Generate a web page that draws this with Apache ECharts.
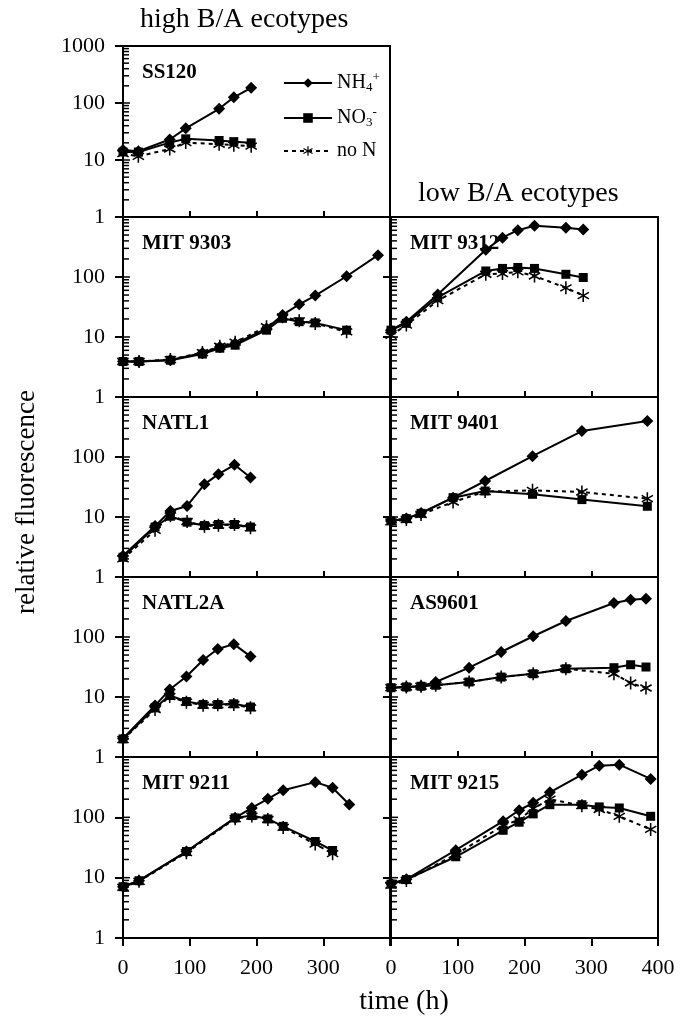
<!DOCTYPE html>
<html>
<head>
<meta charset="utf-8">
<script src="https://cdn.jsdelivr.net/npm/echarts@6/dist/echarts.min.js"></script>
<style>
html, body { margin: 0; padding: 0; background: #fff; }
#chart { width: 690px; height: 1017px; }
</style>
</head>
<body>
<div id="chart"></div>
<script>
// time (h) and relative fluorescence
const ss120Time = [0, 23, 70, 94, 144, 166, 192];
const ss120NH4 = [15, 14.3, 22.9, 35.9, 79, 126, 185];
const ss120NO3 = [13.8, 13.8, 20.2, 23.5, 22, 21, 20];
const ss120NoN = [12.9, 11.6, 15.6, 20.2, 18.9, 18.2, 17.5];

const mit9303Time = [0, 24, 71, 119, 145, 168, 215, 239, 264, 288, 335, 382];
const mit9303NH4 = [3.9, 3.9, 4.15, 5.4, 6.8, 7.7, 13.9, 23.3, 35, 49, 103, 231];
const mit9303NO3 = [3.9, 3.9, 4.1, 5.2, 6.5, 7.3, 13, 20.5, 18, 17.2, 13];
const mit9303NoN = [3.9, 3.9, 4.2, 5.5, 7, 8.2, 14.8, 21.7, 18.6, 16.8, 12.2];

const natl1Time = [0, 48, 71, 96, 122, 143, 167, 191];
const natl1NH4 = [2.27, 7.05, 12.6, 15.3, 35, 51.8, 74.2, 45.4];
const natl1NO3 = [2.13, 6.8, 10.3, 8.2, 7.2, 7.5, 7.5, 6.8];
const natl1NoN = [2.0, 6.0, 10.5, 8.4, 7.0, 7.3, 7.5, 6.6];

const natl2aTime = [0, 48, 70, 95, 120, 142, 166, 191];
const natl2aNH4 = [2.03, 7.2, 13.3, 21.9, 41.4, 63, 76, 47.5];
const natl2aNO3 = [2.0, 6.6, 10.6, 8.4, 7.5, 7.5, 7.7, 6.8];
const natl2aNoN = [1.95, 6.2, 10.2, 8.2, 7.3, 7.4, 7.5, 6.6];

const mit9211Time = [0, 24, 95, 168, 193, 217, 240, 288, 314, 339];
const mit9211NH4 = [7.08, 8.9, 27.1, 97.7, 143, 203, 282, 383, 309, 163];
const mit9211NO3 = [7.08, 8.9, 27.1, 97.7, 107, 94, 70.8, 39.8, 28.2];
const mit9211NoN = [6.9, 8.7, 26, 95, 105, 92, 68, 36, 25];

const mit9312Time = [0, 23, 70, 142, 167, 190, 215, 262, 288];
const mit9312NH4 = [13, 18, 51, 284, 453, 603, 714, 660, 617];
const mit9312NO3 = [13, 16.9, 45.8, 126, 139, 144, 139, 111, 98];
const mit9312NoN = [10.7, 15.8, 40.3, 111, 114, 122, 104, 66, 49];

const mit9401Time = [0, 23, 45, 93, 141, 212, 286, 384];
const mit9401NH4 = [8.6, 9.4, 11.7, 21, 39.8, 103, 271, 398];
const mit9401NO3 = [8.6, 9.4, 11.5, 21, 27.1, 23.9, 19.5, 15.1];
const mit9401NoN = [8.3, 9.1, 11.0, 17.8, 26.5, 27.8, 26.1, 20.2];

const as9601Time = [0, 23, 45, 67, 117, 165, 213, 262, 334, 359, 382];
const as9601NH4 = [14.3, 14.7, 15.1, 17.8, 30.8, 56.2, 103, 185, 369, 418, 435];
const as9601NO3 = [14.3, 14.7, 15.1, 15.7, 17.8, 21.5, 24.4, 29.6, 30.8, 34.5, 31.6];
const as9601NoN = [14.3, 14.7, 15.1, 15.7, 17.8, 21.5, 24.4, 29.6, 24.4, 17.1, 14.1];

const mit9215Time = [0, 23, 97, 168, 192, 213, 238, 286, 312, 342, 389];
const mit9215NH4 = [8.05, 9.4, 28.6, 86.3, 131, 174, 260, 509, 718, 746, 433];
const mit9215NO3 = [7.8, 9.3, 22.2, 61, 83, 114, 162, 162, 149, 143, 104];
const mit9215NoN = [7.5, 9.0, 24.3, 73, 91, 140, 200, 156, 135, 104, 63];

// log-axis tick values (2..9 of each decade drawn as short inner ticks)
const yMajor = [1, 10, 100, 1000];
const yMinor = [2, 3, 4, 5, 6, 7, 8, 9, 20, 30, 40, 50, 60, 70, 80, 90, 200, 300, 400, 500, 600, 700, 800, 900];

const FONT = 'Liberation Serif';
const LX = 123, RX = 391, W = 267;

// layout of the panels
const panels = [
  { label: 'SS120', left: LX, top: 46, h: 171, col: 0, bottom: false, first: true,
    t: ss120Time, nh4: ss120NH4, no3: ss120NO3, non: ss120NoN },
  { label: 'MIT 9303', left: LX, top: 217, h: 180, col: 0, bottom: false,
    t: mit9303Time, nh4: mit9303NH4, no3: mit9303NO3, non: mit9303NoN },
  { label: 'NATL1', left: LX, top: 397, h: 180, col: 0, bottom: false,
    t: natl1Time, nh4: natl1NH4, no3: natl1NO3, non: natl1NoN },
  { label: 'NATL2A', left: LX, top: 577, h: 180, col: 0, bottom: false,
    t: natl2aTime, nh4: natl2aNH4, no3: natl2aNO3, non: natl2aNoN },
  { label: 'MIT 9211', left: LX, top: 757, h: 181, col: 0, bottom: true,
    t: mit9211Time, nh4: mit9211NH4, no3: mit9211NO3, non: mit9211NoN },
  { label: 'MIT 9312', left: RX, top: 217, h: 180, col: 1, bottom: false,
    t: mit9312Time, nh4: mit9312NH4, no3: mit9312NO3, non: mit9312NoN },
  { label: 'MIT 9401', left: RX, top: 397, h: 180, col: 1, bottom: false,
    t: mit9401Time, nh4: mit9401NH4, no3: mit9401NO3, non: mit9401NoN },
  { label: 'AS9601', left: RX, top: 577, h: 180, col: 1, bottom: false,
    t: as9601Time, nh4: as9601NH4, no3: as9601NO3, non: as9601NoN },
  { label: 'MIT 9215', left: RX, top: 757, h: 181, col: 1, bottom: true,
    t: mit9215Time, nh4: mit9215NH4, no3: mit9215NO3, non: mit9215NoN }
];

const starPath = 'path://M-1.2,-10L1.2,-10L1.2,10L-1.2,10Z' +
  'M8.06,-6.04L9.26,-3.96L-8.06,6.04L-9.26,3.96Z' +
  'M-9.26,-3.96L-8.06,-6.04L9.26,3.96L8.06,6.04Z';

function pairs(t, v) {
  return v.map((y, i) => [t[i], y]);
}

// short tick into the panel, placed through the log axis
function renderTick(params, api) {
  const pt = api.coord([0, api.value(1)]);
  const len = api.value(2);
  return {
    type: 'line',
    shape: { x1: pt[0], y1: pt[1], x2: pt[0] + len, y2: pt[1] },
    style: { stroke: '#000', lineWidth: 1.5 }
  };
}

const tickData = yMinor.map(v => [0, v, 6]).concat(yMajor.map(v => [0, v, 7]));

const grid = [], xAxis = [], yAxis = [], series = [], title = [];

panels.forEach((p, i) => {
  grid.push({
    left: p.left, top: p.top, width: W, height: p.h,
    show: true, borderColor: '#000', borderWidth: 2, backgroundColor: 'transparent'
  });
  title.push({
    text: p.label, left: p.left + 14, top: p.top + 11,
    textStyle: { fontFamily: FONT, fontWeight: 'bold', fontSize: 21, color: '#000' }
  });
  xAxis.push({
    type: 'value', gridIndex: i, min: 0, max: 400, interval: 100,
    axisLine: { lineStyle: { color: '#000', width: 2 } },
    axisTick: { show: true, inside: !p.bottom, length: p.bottom ? 8 : 6,
      lineStyle: { color: '#000', width: 2 } },
    axisLabel: {
      show: p.bottom, margin: 19, color: '#000', fontFamily: FONT, fontSize: 22,
      formatter: v => (p.col === 0 && v === 400) ? '' : String(v)
    },
    splitLine: { show: false }
  });
  yAxis.push({
    type: 'log', logBase: 10, gridIndex: i, min: 1, max: 1000, interval: 1,
    axisLine: { show: true, lineStyle: { color: '#000', width: 2 } },
    axisTick: { show: true, inside: false, length: 8,
      lineStyle: { color: '#000', width: 2 } },
    axisLabel: {
      show: p.col === 0, margin: 18, color: '#000', fontFamily: FONT, fontSize: 22,
      formatter: v => (v >= 999 ? (p.first ? '1000' : '') : String(Math.round(v)))
    },
    splitLine: { show: false }
  });
  series.push({
    type: 'custom', xAxisIndex: i, yAxisIndex: i, data: tickData,
    renderItem: renderTick, clip: false, silent: true, z: 1, animation: false
  });
  series.push({
    name: 'NH4+', type: 'line', xAxisIndex: i, yAxisIndex: i,
    data: pairs(p.t, p.nh4), symbol: 'diamond', symbolSize: 12,
    lineStyle: { color: '#000', width: 2 }, itemStyle: { color: '#000' },
    z: 4, animation: false
  });
  series.push({
    name: 'NO3-', type: 'line', xAxisIndex: i, yAxisIndex: i,
    data: pairs(p.t, p.no3), symbol: 'rect', symbolSize: 9,
    lineStyle: { color: '#000', width: 2 }, itemStyle: { color: '#000' },
    z: 3, animation: false
  });
  series.push({
    name: 'no N', type: 'line', xAxisIndex: i, yAxisIndex: i,
    data: pairs(p.t, p.non), symbol: starPath, symbolSize: 13, symbolKeepAspect: true,
    lineStyle: { color: '#000', width: 2, type: [4, 4] }, itemStyle: { color: '#000' },
    z: 2, animation: false
  });
});

const chart = echarts.init(document.getElementById('chart'));
chart.setOption({
  backgroundColor: '#fff',
  animation: false,
  title: title,
  grid: grid,
  xAxis: xAxis,
  yAxis: yAxis,
  series: series,
  legend: {
    data: ['NH4+', 'NO3-', 'no N'],
    orient: 'vertical', left: 278, top: 66,
    itemWidth: 48, itemHeight: 12, itemGap: 12,
    selectedMode: false,
    textStyle: {
      color: '#000', fontFamily: FONT, fontSize: 20,
      rich: {
        a: { fontFamily: FONT, fontSize: 20, color: '#000' },
        sb: { fontFamily: FONT, fontSize: 13, color: '#000', padding: [9, 0, 0, 0] },
        sp: { fontFamily: FONT, fontSize: 13, color: '#000', padding: [0, 0, 11, 0] }
      }
    },
    formatter: name => name === 'NH4+' ? '{a|NH}{sb|4}{sp|+}'
      : name === 'NO3-' ? '{a|NO}{sb|3}{sp|-}' : '{a|no N}'
  },
  graphic: [
    { type: 'text', left: 140, top: 6,
      style: { text: 'high B/A ecotypes', font: '28px "Liberation Serif"', fill: '#000' } },
    { type: 'text', left: 418, top: 180,
      style: { text: 'low B/A ecotypes', font: '28px "Liberation Serif"', fill: '#000' } },
    { type: 'text', x: 27, y: 502, rotation: Math.PI / 2,
      style: { text: 'relative fluorescence', font: '27px "Liberation Serif"', fill: '#000',
        align: 'center', verticalAlign: 'middle' } },
    { type: 'text', x: 404, y: 1002,
      style: { text: 'time (h)', font: '28px "Liberation Serif"', fill: '#000',
        align: 'center', verticalAlign: 'middle' } }
  ]
});
</script>
</body>
</html>
